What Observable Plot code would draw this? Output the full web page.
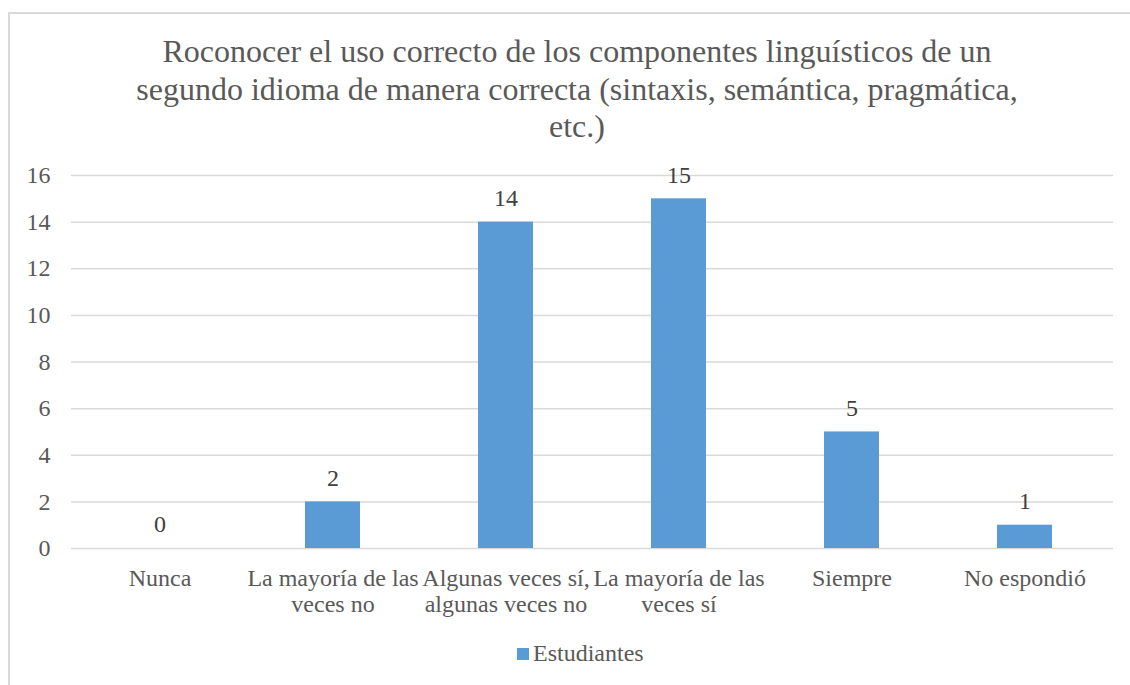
<!DOCTYPE html>
<html>
<head>
<meta charset="utf-8">
<script src="https://cdn.jsdelivr.net/npm/d3@7"></script>
<script src="https://cdn.jsdelivr.net/npm/@observablehq/plot@0.6"></script>
</head>
<body style="margin:0;padding:0;background:#fff;font-family:'Times New Roman',serif">
<div id="root" style="position:relative;width:1130px;height:685px;overflow:hidden">
  <div id="frame" style="position:absolute;left:8px;top:12px;width:1200px;height:700px;border-left:2px solid #d9d9d9;border-top:2px solid #d9d9d9;box-sizing:border-box"></div>
  <div id="title" style="position:absolute;left:24px;width:1106px;top:33px;text-align:center;font-family:'Times New Roman',serif;font-size:32px;line-height:37.5px;color:#595959">Roconocer el uso correcto de los componentes linguísticos de un<br>segundo idioma de manera correcta (sintaxis, semántica, pragmática,<br>etc.)</div>
  <div id="chart" style="position:absolute;left:0;top:150px"></div>
  <div id="legend" style="position:absolute;left:517px;top:641px;font-family:'Times New Roman',serif;font-size:24px;line-height:24px;color:#595959;display:flex;align-items:center"><span style="display:inline-block;width:12px;height:12px;background:#5B9BD5;margin-right:4px;position:relative;top:1px"></span><span>Estudiantes</span></div>
</div>
<script>
const categories = ["Nunca", "La mayoría de las veces no", "Algunas veces sí, algunas veces no", "La mayoría de las veces sí", "Siempre", "No espondió"];
const categoryLabels = ["Nunca", "La mayoría de las\nveces no", "Algunas veces sí,\nalgunas veces no", "La mayoría de las\nveces sí", "Siempre", "No espondió"];
const values = [0, 2, 14, 15, 5, 1];
const yTicks = [0, 2, 4, 6, 8, 10, 12, 14, 16];
const seriesName = "Estudiantes";

const data = categories.map((c, i) => ({cat: c, value: values[i], series: seriesName}));
const labelOf = new Map(categories.map((c, i) => [c, categoryLabels[i]]));
const FONT = "'Times New Roman', serif";

const chart = Plot.plot({
  width: 1130,
  height: 470,
  marginTop: 25,
  marginBottom: 72,
  marginLeft: 71,
  marginRight: 17,
  style: {fontFamily: FONT, fontSize: "24px", color: "#595959", background: "transparent"},
  x: {domain: categories, paddingInner: 0.68, paddingOuter: 0.34, label: null},
  y: {domain: [0, 16], label: null},
  marks: [
    Plot.gridY(yTicks, {stroke: "#d9d9d9", strokeOpacity: 1, strokeWidth: 1.5}),
    Plot.axisY({ticks: yTicks, tickSize: 0, tickPadding: 21, label: null, fontSize: 24, fontFamily: FONT}),
    Plot.axisX({tickSize: 0, tickPadding: 20, tickFormat: d => labelOf.get(d), lineHeight: 1.05, label: null, fontSize: 24, fontFamily: FONT}),
    Plot.barY(data, {x: "cat", y: "value", fill: "#5B9BD5"}),
    Plot.text(data, {x: "cat", y: "value", text: d => String(d.value), lineAnchor: "middle", dy: -24, fill: "#404040", fontSize: 24, fontFamily: FONT})
  ]
});
document.getElementById("chart").appendChild(chart);
</script>
</body>
</html>
